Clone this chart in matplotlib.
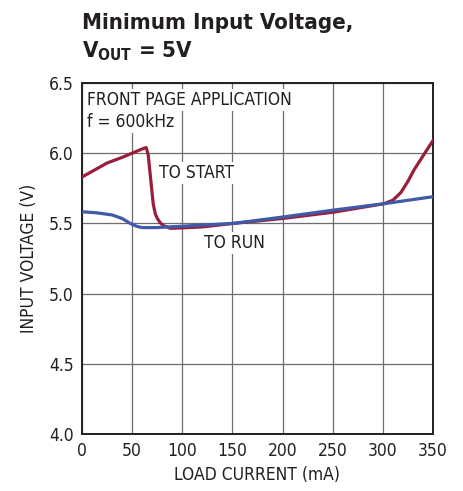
import matplotlib.pyplot as plt
from matplotlib import font_manager

# data
start_ma = [0, 10, 25, 40, 50, 60, 64, 66, 68, 71, 73, 75, 78, 81, 88, 100, 120, 151, 200, 251, 301, 310, 318, 325, 331, 340, 350]
start_v = [5.83, 5.87, 5.93, 5.97, 6.00, 6.03, 6.04, 5.99, 5.85, 5.64, 5.57, 5.536, 5.505, 5.485, 5.465, 5.468, 5.475, 5.50, 5.535, 5.58, 5.64, 5.665, 5.72, 5.80, 5.88, 5.98, 6.09]
run_ma = [0, 15, 30, 40, 48, 55, 60, 74, 100, 151, 200, 251, 301, 350]
run_v = [5.583, 5.575, 5.56, 5.535, 5.50, 5.478, 5.47, 5.47, 5.48, 5.50, 5.545, 5.595, 5.64, 5.69]

x_ticks = [0, 50, 100, 150, 200, 250, 300, 350]
y_ticks = [4.0, 4.5, 5.0, 5.5, 6.0, 6.5]

names = {f.name for f in font_manager.fontManager.ttflist}
if 'Liberation Sans Narrow' in names:
    plt.rcParams['font.family'] = ['Liberation Sans Narrow', 'DejaVu Sans']
else:
    plt.rcParams['font.family'] = ['DejaVu Sans']
    plt.rcParams['font.stretch'] = 'condensed'

fig = plt.figure(figsize=(4.64, 4.91), dpi=100)
ax = fig.add_axes([0.1767, 0.1161, 0.7565, 0.7149])

ax.plot(start_ma, start_v, color='#9b1d3c', lw=2.3, zorder=3, solid_joinstyle='round')
ax.plot(run_ma, run_v, color='#3f5aa6', lw=2.3, zorder=3, solid_joinstyle='round')

ax.set_xlim(0, 350)
ax.set_ylim(4.0, 6.5)
ax.set_xticks(x_ticks)
ax.set_yticks(y_ticks)
ax.set_yticklabels([f'{v:.1f}' for v in y_ticks])
ax.tick_params(length=0, labelsize=12.5, pad=6, colors='#231f20')
ax.grid(True, color='#6d6d6d', lw=0.9)
for s in ax.spines.values():
    s.set_linewidth(1.4)
    s.set_color('#231f20')

ax.set_xlabel('LOAD CURRENT (mA)', fontsize=12.5, color='#231f20', labelpad=4)
ax.set_ylabel('INPUT VOLTAGE (V)', fontsize=12.5, color='#231f20', labelpad=8)

box = dict(facecolor='white', edgecolor='none', pad=1.5)
ax.text(5, 6.38, 'FRONT PAGE APPLICATION', fontsize=12.5, color='#231f20', va='center', bbox=box, zorder=2)
ax.text(5, 6.22, 'f = 600kHz', fontsize=12.5, color='#231f20', va='center', bbox=box, zorder=2)
ax.text(77, 5.86, 'TO START', fontsize=12.5, color='#231f20', va='center', bbox=box, zorder=2)
ax.text(122, 5.36, 'TO RUN', fontsize=12.5, color='#231f20', va='center', bbox=box, zorder=2)

fig.text(0.1767, 0.953, 'Minimum Input Voltage,', fontsize=16, fontweight='bold', color='#231f20', va='center')
fig.text(0.1767, 0.896, r'V$_{\mathbf{OUT}}$ = 5V', fontsize=16, fontweight='bold', color='#231f20', va='center')

fig.savefig('out.png', dpi=100)
